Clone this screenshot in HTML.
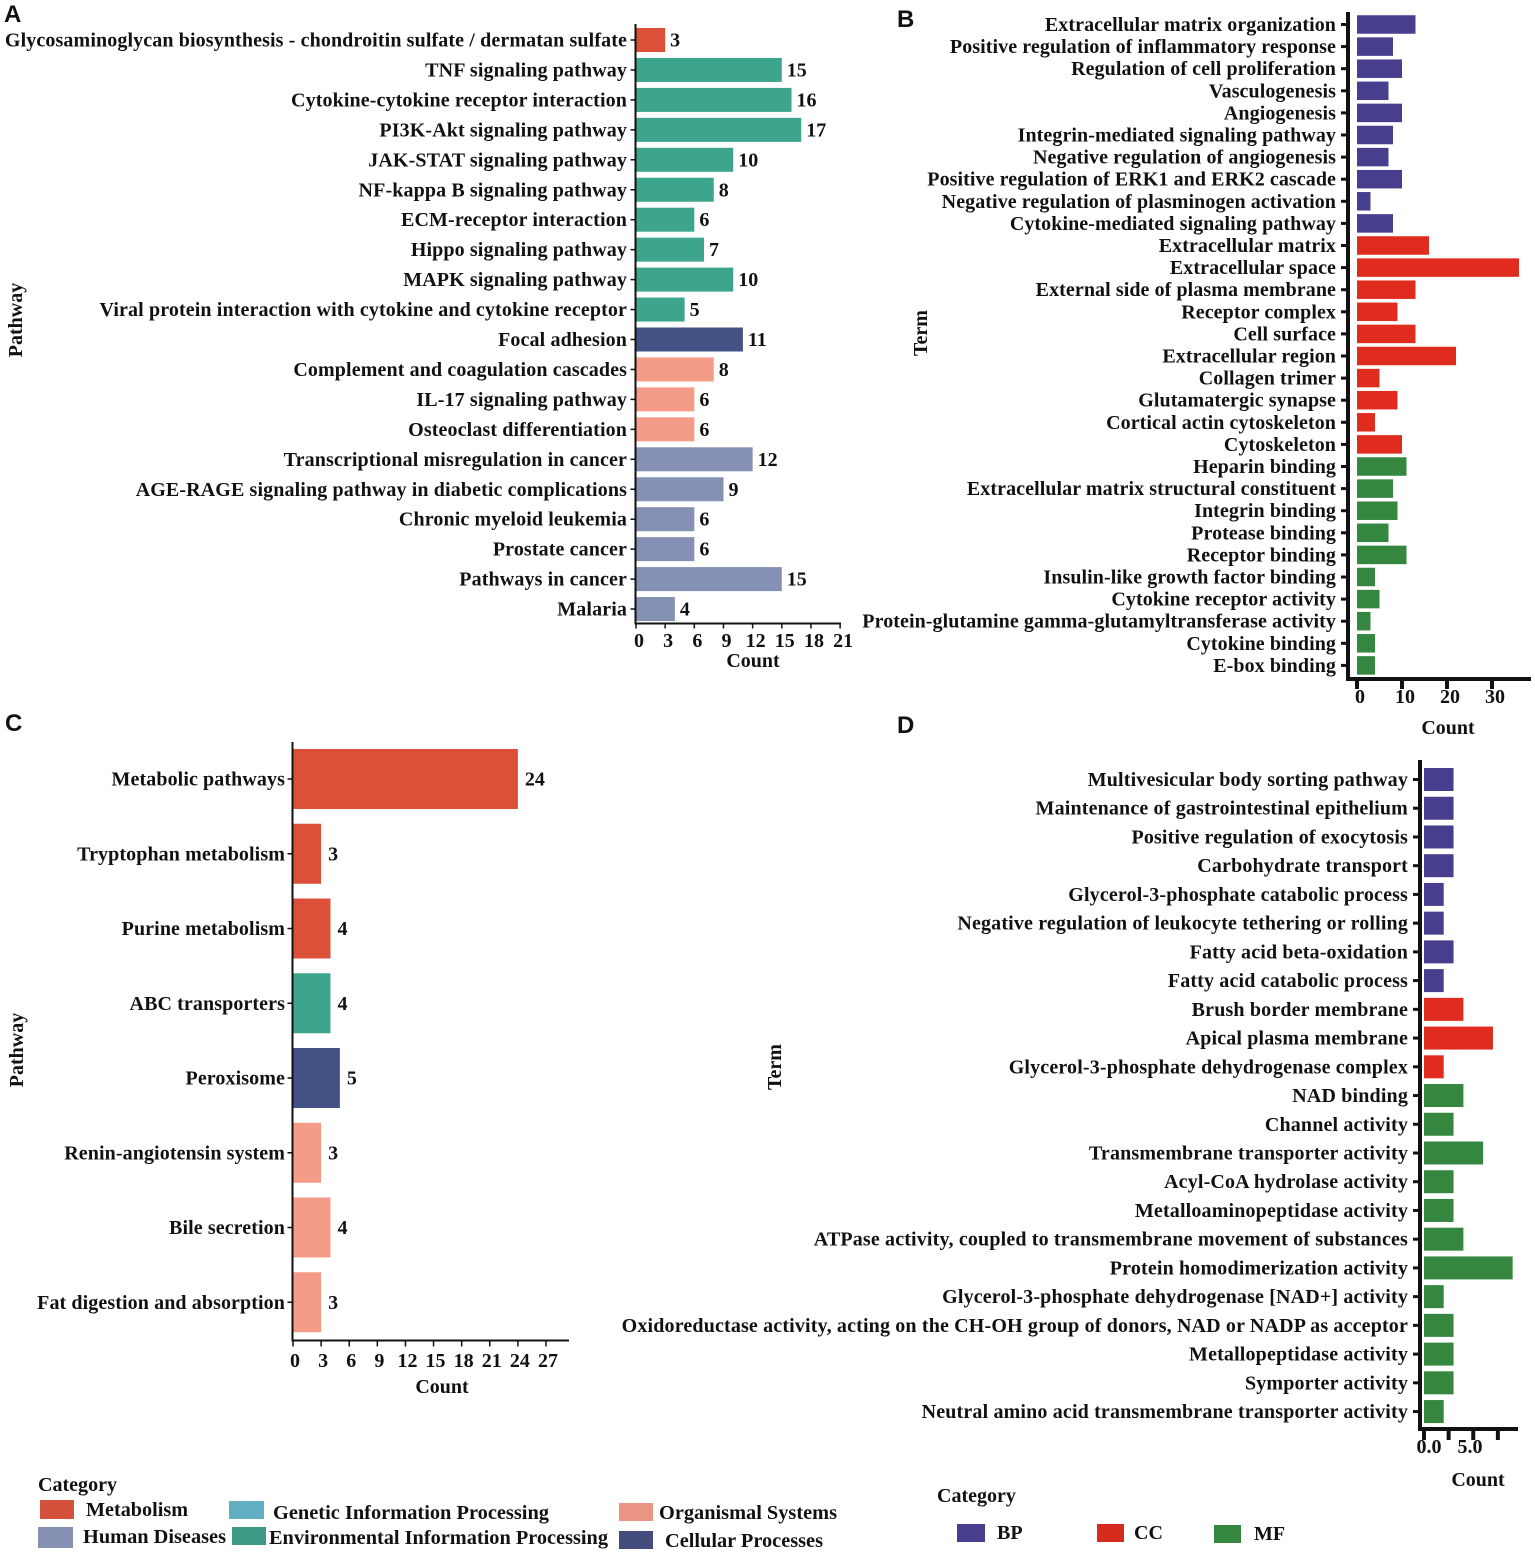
<!DOCTYPE html>
<html>
<head>
<meta charset="utf-8">
<title>Enrichment bar charts</title>
<style>
html,body{margin:0;padding:0;background:#fff;}
svg{display:block;filter:blur(0.35px);}
text{font-family:"Liberation Serif",serif;font-weight:bold;fill:#111;}
.letter{font-family:"Liberation Sans",sans-serif;font-size:24px;}
</style>
</head>
<body>
<svg id="chart" xmlns="http://www.w3.org/2000/svg" width="1535" height="1554" viewBox="0 0 1535 1554">
  <text class="letter" x="4" y="22">A</text>
  <text class="letter" x="897" y="27">B</text>
  <text class="letter" x="5" y="731">C</text>
  <text class="letter" x="897" y="733">D</text>

  <g>
    <text x="38" y="1491" font-size="20" textLength="79" lengthAdjust="spacingAndGlyphs">Category</text>
    <rect x="40" y="1500" width="34" height="19" fill="#d4523c"/>
    <text x="86" y="1516" font-size="20" textLength="102" lengthAdjust="spacingAndGlyphs">Metabolism</text>
    <rect x="229" y="1501" width="35" height="18" fill="#62aec3"/>
    <text x="273" y="1519" font-size="20" textLength="276" lengthAdjust="spacingAndGlyphs">Genetic Information Processing</text>
    <rect x="619" y="1503" width="34" height="18" fill="#ea9583"/>
    <text x="659" y="1519" font-size="20" textLength="178" lengthAdjust="spacingAndGlyphs">Organismal Systems</text>
    <rect x="38" y="1527" width="35" height="21" fill="#8590b2"/>
    <text x="83" y="1543" font-size="20" textLength="143" lengthAdjust="spacingAndGlyphs">Human Diseases</text>
    <rect x="232" y="1527" width="34" height="18" fill="#3d9a84"/>
    <text x="269" y="1544" font-size="20" textLength="339" lengthAdjust="spacingAndGlyphs">Environmental Information Processing</text>
    <rect x="619" y="1531" width="34" height="18" fill="#434e7d"/>
    <text x="665" y="1547" font-size="20" textLength="158" lengthAdjust="spacingAndGlyphs">Cellular Processes</text>
  </g>

  <g>
    <text x="937" y="1502" font-size="20">Category</text>
    <rect x="957" y="1524" width="28" height="18" fill="#473f8d"/>
    <text x="997" y="1539" font-size="20">BP</text>
    <rect x="1097" y="1524" width="27" height="18" fill="#d42b1e"/>
    <text x="1134" y="1539" font-size="20">CC</text>
    <rect x="1214" y="1525" width="27" height="18" fill="#35873f"/>
    <text x="1254" y="1540" font-size="20">MF</text>
  </g>
</svg>
<script>
const panelATerms = ["Glycosaminoglycan biosynthesis - chondroitin sulfate / dermatan sulfate","TNF signaling pathway","Cytokine-cytokine receptor interaction","PI3K-Akt signaling pathway","JAK-STAT signaling pathway","NF-kappa B signaling pathway","ECM-receptor interaction","Hippo signaling pathway","MAPK signaling pathway","Viral protein interaction with cytokine and cytokine receptor","Focal adhesion","Complement and coagulation cascades","IL-17 signaling pathway","Osteoclast differentiation","Transcriptional misregulation in cancer","AGE-RAGE signaling pathway in diabetic complications","Chronic myeloid leukemia","Prostate cancer","Pathways in cancer","Malaria"];
const panelAValues = [3,15,16,17,10,8,6,7,10,5,11,8,6,6,12,9,6,6,15,4];
const panelAGroups = ["met","env","env","env","env","env","env","env","env","env","cel","org","org","org","hum","hum","hum","hum","hum","hum"];
const panelATicks = [0,3,6,9,12,15,18,21];
const panelATickLabels = ["0","3","6","9","12","15","18","21"];

const panelBTerms = ["Extracellular matrix organization","Positive regulation of inflammatory response","Regulation of cell proliferation","Vasculogenesis","Angiogenesis","Integrin-mediated signaling pathway","Negative regulation of angiogenesis","Positive regulation of ERK1 and ERK2 cascade","Negative regulation of plasminogen activation","Cytokine-mediated signaling pathway","Extracellular matrix","Extracellular space","External side of plasma membrane","Receptor complex","Cell surface","Extracellular region","Collagen trimer","Glutamatergic synapse","Cortical actin cytoskeleton","Cytoskeleton","Heparin binding","Extracellular matrix structural constituent","Integrin binding","Protease binding","Receptor binding","Insulin-like growth factor binding","Cytokine receptor activity","Protein-glutamine gamma-glutamyltransferase activity","Cytokine binding","E-box binding"];
const panelBValues = [13,8,10,7,10,8,7,10,3,8,16,36,13,9,13,22,5,9,4,10,11,8,9,7,11,4,5,3,4,4];
const panelBGroups = ["bp","bp","bp","bp","bp","bp","bp","bp","bp","bp","cc","cc","cc","cc","cc","cc","cc","cc","cc","cc","mf","mf","mf","mf","mf","mf","mf","mf","mf","mf"];
const panelBTicks = [0,10,20,30];
const panelBTickLabels = ["0","10","20","30"];

const panelCTerms = ["Metabolic pathways","Tryptophan metabolism","Purine metabolism","ABC transporters","Peroxisome","Renin-angiotensin system","Bile secretion","Fat digestion and absorption"];
const panelCValues = [24,3,4,4,5,3,4,3];
const panelCGroups = ["met","met","met","env","cel","org","org","org"];
const panelCTicks = [0,3,6,9,12,15,18,21,24,27];
const panelCTickLabels = ["0","3","6","9","12","15","18","21","24","27"];

const panelDTerms = ["Multivesicular body sorting pathway","Maintenance of gastrointestinal epithelium","Positive regulation of exocytosis","Carbohydrate transport","Glycerol-3-phosphate catabolic process","Negative regulation of leukocyte tethering or rolling","Fatty acid beta-oxidation","Fatty acid catabolic process","Brush border membrane","Apical plasma membrane","Glycerol-3-phosphate dehydrogenase complex","NAD binding","Channel activity","Transmembrane transporter activity","Acyl-CoA hydrolase activity","Metalloaminopeptidase activity","ATPase activity, coupled to transmembrane movement of substances","Protein homodimerization activity","Glycerol-3-phosphate dehydrogenase [NAD+] activity","Oxidoreductase activity, acting on the CH-OH group of donors, NAD or NADP as acceptor","Metallopeptidase activity","Symporter activity","Neutral amino acid transmembrane transporter activity"];
const panelDValues = [3,3,3,3,2,2,3,2,4,7,2,4,3,6,3,3,4,9,2,3,3,3,2];
const panelDGroups = ["bp","bp","bp","bp","bp","bp","bp","bp","cc","cc","cc","mf","mf","mf","mf","mf","mf","mf","mf","mf","mf","mf","mf"];
const panelDTicks = [0,2.5,5,7.5];
const panelDTickLabels = ["0.0","","5.0",""];

const groupColors = {met:"#dc5039",env:"#3ca58c",cel:"#445185",org:"#f49c87",hum:"#8490b4",bp:"#473f8d",cc:"#e02b1f",mf:"#35873f"};

const svg = document.getElementById('chart');
const NS = 'http://www.w3.org/2000/svg';

function make(tag, attrs, parent) {
  const el = document.createElementNS(NS, tag);
  for (const k in attrs) el.setAttribute(k, attrs[k]);
  parent.appendChild(el);
  return el;
}

function drawPanel(p) {
  const g = make('g', {}, svg);
  
  
  const x = v => p.x0 + v * p.unit;
  const y = i => p.yFirst + i * p.yStep;
  const tickLabelX = v => x(0) + v * (p.labelUnit || p.unit) + p.tickShift;

  p.terms.forEach((term, i) => {
    const w = x(p.values[i]) - x(0);
    const bar = make('rect', {x: x(0), y: y(i) - p.barH / 2, width: w, height: p.barH, fill: groupColors[p.groups[i]]}, g);
    
    

    const tick = make('line', {x1: p.axisX - p.yTickLen, x2: p.axisX, y1: y(i), y2: y(i), stroke: '#111', 'stroke-width': p.tickW}, g);
    
    

    const label = make('text', {x: p.labelX, y: y(i) + 6.5, 'font-size': p.font, 'text-anchor': 'end', 'letter-spacing': p.spacing}, g);
    label.textContent = term;
    
    

    if (p.showValues) {
      const val = make('text', {x: x(p.values[i]) + p.valueGap, y: y(i) + 6.5, 'font-size': p.font}, g);
      val.textContent = p.values[i];
      
      
    }
  });

  const yAxis = make('line', {x1: p.axisX, x2: p.axisX, y1: p.axisTop, y2: p.axisY + p.axisW / 2, stroke: '#111', 'stroke-width': p.axisW}, g);
  
  

  const xAxis = make('line', {x1: p.axisX - p.axisW / 2, x2: p.axisRight, y1: p.axisY, y2: p.axisY, stroke: '#111', 'stroke-width': p.axisW}, g);
  
  

  p.ticks.forEach((t, i) => {
    const tick = make('line', {x1: x(t), x2: x(t), y1: p.axisY, y2: p.axisY + p.xTickLen, stroke: '#111', 'stroke-width': p.xTickW}, g);
    
    

    if (p.tickLabels[i] !== '') {
      const lab = make('text', {x: tickLabelX(t), y: p.tickBase, 'font-size': p.font, 'text-anchor': 'middle'}, g);
      lab.textContent = p.tickLabels[i];
      
      
    }
  });

  const xTitle = make('text', {x: p.xTitleX, y: p.xTitleY, 'font-size': p.font, 'text-anchor': 'middle'}, g);
  xTitle.textContent = 'Count';
  
  

  const yTitle = make('text', {transform: 'translate(' + p.yTitleX + ',' + p.yTitleY + ') rotate(-90)', 'font-size': p.font, 'text-anchor': 'middle'}, g);
  yTitle.textContent = p.yTitle;
  
  
}

drawPanel({id:'a',terms:panelATerms,values:panelAValues,groups:panelAGroups,ticks:panelATicks,tickLabels:panelATickLabels,
  x0:636,unit:9.72,yFirst:40,yStep:29.95,barH:24,axisX:635.5,axisTop:24,axisY:623.5,axisRight:841,axisW:2,tickW:1.5,yTickLen:5,xTickLen:5,xTickW:1.5,
  labelX:627,font:20,spacing:0.12,showValues:true,valueGap:5,tickShift:3,tickBase:647,xTitleX:753,xTitleY:667,yTitle:'Pathway',yTitleX:22,yTitleY:320});

drawPanel({id:'b',terms:panelBTerms,values:panelBValues,groups:panelBGroups,ticks:panelBTicks,tickLabels:panelBTickLabels,
  x0:1357,unit:4.5,yFirst:24.5,yStep:22.1,barH:18.5,axisX:1348,axisTop:12,axisY:679,axisRight:1531,axisW:4,tickW:3,yTickLen:7,xTickLen:10,xTickW:4,
  labelX:1336,font:20,spacing:0.08,showValues:false,valueGap:5,tickShift:3,tickBase:703,xTitleX:1448,xTitleY:734,yTitle:'Term',yTitleX:927,yTitleY:333});

drawPanel({id:'c',terms:panelCTerms,values:panelCValues,groups:panelCGroups,ticks:panelCTicks,tickLabels:panelCTickLabels,
  x0:293,unit:9.37,yFirst:779,yStep:74.75,barH:60,axisX:292.5,axisTop:742,axisY:1340.5,axisRight:569,axisW:2,tickW:1.5,yTickLen:5,xTickLen:6,xTickW:1.5,
  labelX:285,font:20,spacing:0.1,showValues:true,valueGap:7,tickShift:2,tickBase:1367,xTitleX:442,xTitleY:1393,yTitle:'Pathway',yTitleX:23,yTitleY:1050});

drawPanel({id:'d',terms:panelDTerms,values:panelDValues,groups:panelDGroups,ticks:panelDTicks,tickLabels:panelDTickLabels,
  x0:1424,unit:9.85,labelUnit:8.2,yFirst:779.5,yStep:28.73,barH:23,axisX:1420,axisTop:760,axisY:1429,axisRight:1518,axisW:4,tickW:3,yTickLen:7,xTickLen:11,xTickW:4,
  labelX:1408,font:20,spacing:0.16,showValues:false,valueGap:5,tickShift:5,tickBase:1453,xTitleX:1478,xTitleY:1486,yTitle:'Term',yTitleX:781,yTitleY:1067});
</script>
</body>
</html>
